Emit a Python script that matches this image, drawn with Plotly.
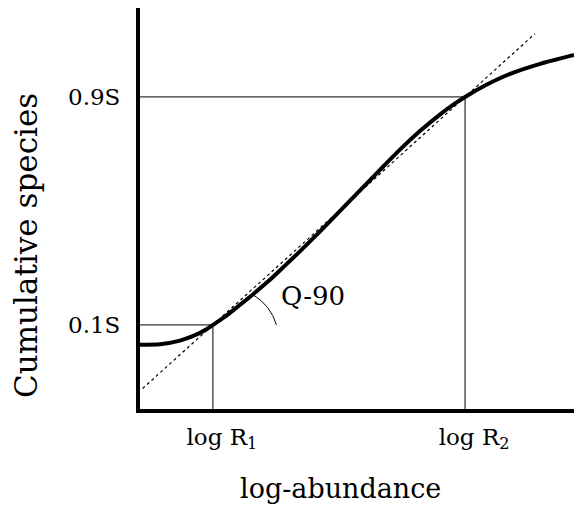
import numpy as np
import plotly.graph_objects as go

# Cumulative species curve against log-abundance (schematic, S = 1)
log_abundance = [0.0, 0.46, 0.92, 1.27, 1.50, 1.68, 1.96, 2.30, 2.60, 3.00,
                 3.34, 3.69, 4.15, 4.61, 5.07, 5.53, 5.99, 6.45, 6.91, 7.26,
                 7.49, 7.95, 8.53, 9.22, 10.0]
cumulative = [0.030, 0.032, 0.045, 0.064, 0.082, 0.100, 0.129, 0.170, 0.207,
              0.259, 0.308, 0.359, 0.428, 0.500, 0.572, 0.644, 0.715, 0.780,
              0.838, 0.877, 0.900, 0.940, 0.981, 1.016, 1.047]

# Quantile levels and their abundances
quantile_levels = [0.1, 0.9]
quantile_labels = ["0.1S", "0.9S"]
log_R = [1.68, 7.49]
log_R_labels = ["log R<sub>1</sub>", "log R<sub>2</sub>"]

# Extent of the dotted secant line through the two quantile points
secant_x_extent = [0.06, 9.10]

# Angle marker for the Q-90 slope
arc_center = (2.01, 0.050)
arc_radius = (1.18, 0.180)
arc_angles = (16.2, 59.7)
q_label = "Q-90"

X_RANGE = [0, 10]
Y_RANGE = [-0.195, 1.212]
FONT = "DejaVu Serif"

fig = go.Figure()

# thin guide lines at the 10% and 90% quantiles
for lvl, r in zip(quantile_levels, log_R):
    fig.add_trace(go.Scatter(x=[X_RANGE[0], r], y=[lvl, lvl], mode="lines",
                             line=dict(color="black", width=1), hoverinfo="skip"))
    fig.add_trace(go.Scatter(x=[r, r], y=[Y_RANGE[0], lvl], mode="lines",
                             line=dict(color="black", width=1), hoverinfo="skip"))

# dotted secant through (log R1, 0.1S) and (log R2, 0.9S)
slope = (quantile_levels[1] - quantile_levels[0]) / (log_R[1] - log_R[0])
sx = np.array(secant_x_extent)
sy = quantile_levels[0] + slope * (sx - log_R[0])
fig.add_trace(go.Scatter(x=sx, y=sy, mode="lines",
                         line=dict(color="black", width=1.2, dash="dot"),
                         hoverinfo="skip"))

# angle arc
t = np.radians(np.linspace(arc_angles[0], arc_angles[1], 60))
fig.add_trace(go.Scatter(x=arc_center[0] + arc_radius[0] * np.cos(t),
                         y=arc_center[1] + arc_radius[1] * np.sin(t),
                         mode="lines", line=dict(color="black", width=1),
                         hoverinfo="skip"))

# the cumulative curve
fig.add_trace(go.Scatter(x=log_abundance, y=cumulative, mode="lines",
                         line=dict(color="black", width=4, shape="spline",
                                   smoothing=0.6),
                         hoverinfo="skip"))

fig.add_annotation(x=3.20, y=0.202, xref="x", yref="y", text=q_label,
                   showarrow=False, xanchor="left", yanchor="middle",
                   font=dict(family=FONT, size=26, color="black"))

# axis titles
fig.add_annotation(x=0.463, y=0, xref="paper", yref="paper", yshift=-79,
                   text="log-abundance", showarrow=False,
                   xanchor="center", yanchor="middle",
                   font=dict(family=FONT, size=27, color="black"))
fig.add_annotation(x=0, y=0.4065, xref="paper", yref="paper", xshift=-114,
                   text="Cumulative species", showarrow=False, textangle=-90,
                   xanchor="center", yanchor="middle",
                   font=dict(family=FONT, size=31, color="black"))

fig.update_layout(
    width=574, height=506,
    margin=dict(l=140, r=0, t=8, b=97),
    paper_bgcolor="white", plot_bgcolor="white",
    showlegend=False,
    font=dict(family=FONT, color="black"),
)
fig.update_xaxes(range=X_RANGE, showgrid=False, zeroline=False,
                 showline=True, linewidth=4, linecolor="black",
                 tickmode="array", tickvals=log_R, ticktext=log_R_labels,
                 ticks="", ticklabelstandoff=4, ticklabelshift=9,
                 tickfont=dict(family=FONT, size=23, color="black"))
fig.update_yaxes(range=Y_RANGE, showgrid=False, zeroline=False,
                 showline=True, linewidth=4, linecolor="black",
                 tickmode="array", tickvals=quantile_levels,
                 ticktext=quantile_labels,
                 ticks="", ticklabelstandoff=11,
                 tickfont=dict(family=FONT, size=23, color="black"))

fig.write_html("out.html")
